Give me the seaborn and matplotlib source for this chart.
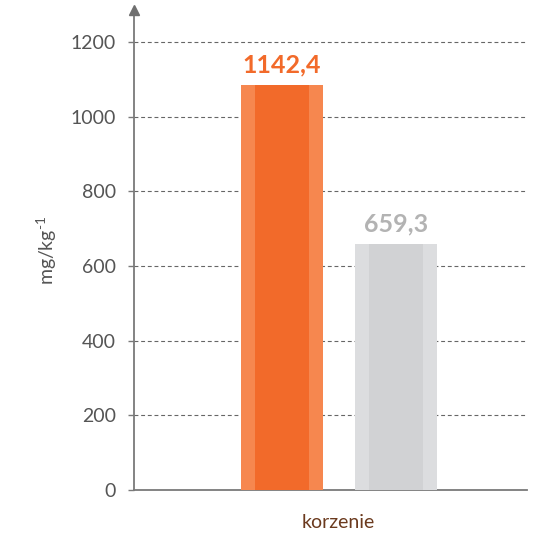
import matplotlib
matplotlib.use("Agg")
import matplotlib.pyplot as plt
import seaborn as sns
import pandas as pd

# data
series = ["A", "B"]
bar_values = [1085, 659.3]          # bar heights as drawn in the picture
value_labels = ["1142,4", "659,3"]  # printed labels
category = "korzenie"
yticks = [0, 200, 400, 600, 800, 1000, 1200]

outer_colors = ["#F6874F", "#DCDDDF"]
inner_colors = ["#F26A2A", "#D1D2D4"]
label_colors = ["#F26A2A", "#B3B3B3"]

sns.set_theme(style="white")
plt.rcParams["font.family"] = ["Lato", "DejaVu Sans"]
plt.rcParams["mathtext.fontset"] = "custom"
plt.rcParams["mathtext.rm"] = "Lato"
plt.rcParams["mathtext.it"] = "Lato"

df = pd.DataFrame({"s": series, "v": bar_values})

fig = plt.figure(figsize=(5.4, 5.35), dpi=100)
ax = fig.add_axes([134 / 540, 1 - 490 / 535, (527 - 134) / 540, (490 - 10) / 535])

sns.barplot(data=df, x="s", y="v", hue="s", palette=outer_colors, width=0.72,
            saturation=1, legend=False, ax=ax, zorder=3)
sns.barplot(data=df, x="s", y="v", hue="s", palette=inner_colors, width=0.48,
            saturation=1, legend=False, ax=ax, zorder=4)
for p in ax.patches:
    p.set_edgecolor("none")
    p.set_linewidth(0)

ax.set_xlim(-1.298, 2.149)
ax.set_ylim(0, 1286)
ax.set_yticks(yticks)
ax.set_yticklabels([str(t) for t in yticks], fontsize=14, color="#555555")
ax.set_xticks([])
ax.set_xlabel("")
ax.set_ylabel("mg/kg$^{\\mathregular{\u2010}\\mathregular{1}}$", fontsize=14,
              color="#555555", labelpad=8)

for t in yticks[1:]:
    ax.axhline(t, color="#666666", lw=0.8, ls=(0, (3.5, 2.5)), zorder=1)

for s in ["top", "right"]:
    ax.spines[s].set_visible(False)
for s in ["left", "bottom"]:
    ax.spines[s].set_color("#7a7a7a")
    ax.spines[s].set_linewidth(1.3)
ax.tick_params(axis="y", length=4, width=1, color="#7a7a7a", pad=9, left=True)

ax.plot(0, 1.0, marker="^", markersize=7, color="#6f6f6f",
        transform=ax.transAxes, clip_on=False, zorder=6)

for i, (v, lab) in enumerate(zip(bar_values, value_labels)):
    ax.text(i, v + 22, lab, ha="center", va="bottom", fontsize=18,
            fontweight="bold", color=label_colors[i])

ax.text(0.519, -0.068, category, transform=ax.transAxes, ha="center", va="center",
        fontsize=14, color="#6B3A1E")

fig.savefig("out.png", dpi=100)
